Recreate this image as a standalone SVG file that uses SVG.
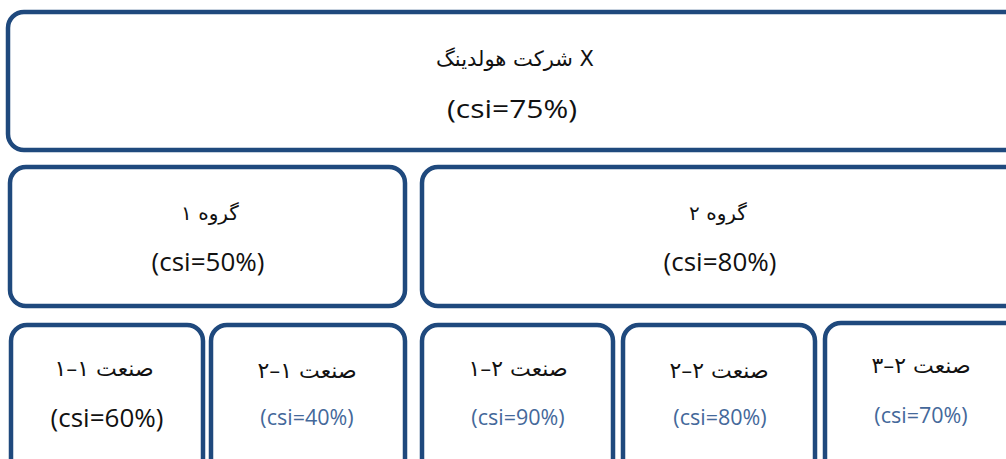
<svg xmlns="http://www.w3.org/2000/svg" width="1006" height="459" viewBox="0 0 1006 459">
<style>
.box{fill:#ffffff;stroke:#1f497d;stroke-width:4.5}
.fa{font-family:"DejaVu Sans",sans-serif;fill:#111111;text-anchor:middle}
.en{font-family:"Open Sans",sans-serif;fill:#111111;text-anchor:middle}
.blue{fill:#44689a}
</style>
<rect width="1006" height="459" fill="#ffffff"/>
<g id="connectors"></g>
<g id="holding">
<rect class="box" x="8" y="12" width="1020" height="138" rx="16"/>
<text class="fa" x="515" y="66" font-size="21">شرکت هولدینگ X</text>
<text class="en" x="512" y="118" font-size="25" textLength="130" lengthAdjust="spacingAndGlyphs">(csi=75%)</text>
</g>
<g id="group1">
<rect class="box" x="10" y="167" width="395" height="139" rx="16"/>
<text class="fa" x="210" y="220" font-size="20">گروه ۱</text>
<text class="en" x="208" y="271" font-size="26">(csi=50%)</text>
</g>
<g id="group2">
<rect class="box" x="422" y="167" width="610" height="139" rx="16"/>
<text class="fa" x="718" y="220" font-size="20">گروه ۲</text>
<text class="en" x="720" y="271" font-size="26">(csi=80%)</text>
</g>
<g id="ind11">
<rect class="box" x="11" y="325" width="192" height="160" rx="16"/>
<text class="fa" x="104" y="376" font-size="22">صنعت ۱–۱</text>
<text class="en" x="107" y="427" font-size="26">(csi=60%)</text>
</g>
<g id="ind12">
<rect class="box" x="211" y="325" width="194" height="160" rx="16"/>
<text class="fa" x="307" y="378" font-size="22">صنعت ۱–۲</text>
<text class="en blue" x="307" y="425" font-size="21.5">(csi=40%)</text>
</g>
<g id="ind21">
<rect class="box" x="422" y="325" width="191" height="160" rx="16"/>
<text class="fa" x="518" y="376" font-size="22">صنعت ۲–۱</text>
<text class="en blue" x="518" y="425" font-size="21.5">(csi=90%)</text>
</g>
<g id="ind22">
<rect class="box" x="623" y="325" width="192" height="160" rx="16"/>
<text class="fa" x="719" y="378" font-size="22">صنعت ۲–۲</text>
<text class="en blue" x="720" y="425" font-size="21.5">(csi=80%)</text>
</g>
<g id="ind23">
<rect class="box" x="825" y="323" width="210" height="160" rx="16"/>
<text class="fa" x="921" y="373" font-size="22">صنعت ۲–۳</text>
<text class="en blue" x="921" y="423" font-size="21.5">(csi=70%)</text>
</g>
</svg>
